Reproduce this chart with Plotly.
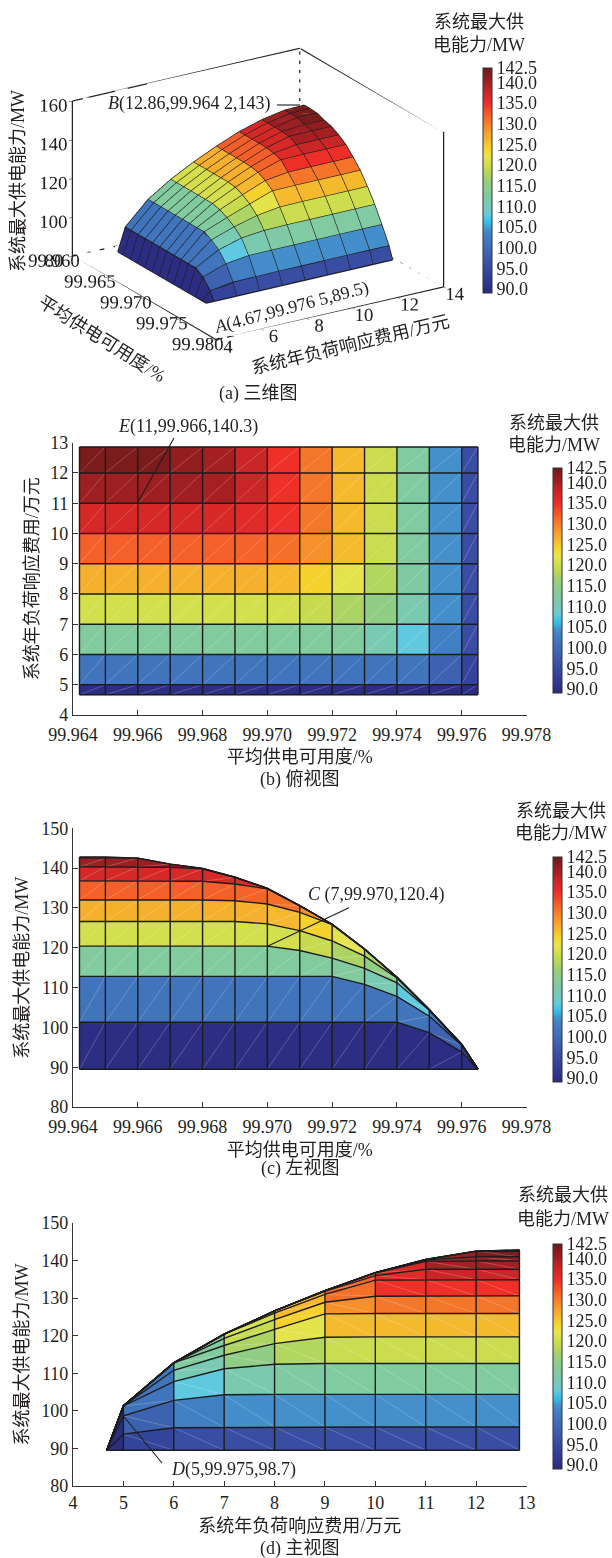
import plotly.graph_objects as go
from plotly.colors import sample_colorscale

W, H = 612, 1558

avail = [99.9642, 99.965, 99.966, 99.967, 99.968, 99.969, 99.970, 99.971,
         99.972, 99.973, 99.974, 99.975, 99.976, 99.9765]
cost = [4.67, 5, 6, 7, 8, 9, 10, 11, 12, 12.86]
z_467 = [89.5] * 14
z_5 = [101.3] * 11 + [98.7, 93.8, 89.5]
z_6 = [112.8] * 9 + [110.8, 107.8, 102.8, 95.5, 89.5]
z_7 = [120.4] * 7 + [119.3, 117.4, 114.8, 111.2, 104.3, 95.6, 89.5]
z_8 = [126.6] * 6 + [126.0, 124.3, 121.7, 117.9, 112.4, 104.4, 95.7, 89.5]
z_9 = [132.0] * 5 + [131.8, 131.0, 128.9, 125.8, 119.6, 112.6, 104.4, 95.7, 89.5]
z_10 = [136.8] * 4 + [136.7, 136.0, 134.8, 130.5, 125.9, 119.7, 112.6, 104.4, 95.7, 89.5]
z_11 = [140.3, 140.3, 140.3, 140.2, 139.8, 137.7, 134.9, 130.6, 125.9, 119.7, 112.6, 104.4, 95.7, 89.5]
z_12 = [142.5, 142.5, 142.5, 141.0, 139.9, 137.7, 134.9, 130.6, 125.9, 119.7, 112.6, 104.4, 95.7, 89.5]
z_1286 = [142.8, 142.8, 142.5, 141.0, 139.9, 137.7, 134.9, 130.6, 125.9, 119.7, 112.6, 104.4, 95.7, 89.5]
Z = [z_467, z_5, z_6, z_7, z_8, z_9, z_10, z_11, z_12, z_1286]

CMIN, CMAX = 89.0, 143.5
cb_ticks = [90, 95, 100, 105, 110, 115, 120, 125, 130, 135, 140, CMAX]
cb_text = ["90.0", "95.0", "100.0", "105.0", "110.0", "115.0", "120.0", "125.0", "130.0", "135.0", "140.0", "142.5"]

stops = [(89, "#2b2a80"), (92, "#2f3a92"), (96, "#3a50a4"), (100, "#3f6cb6"), (103, "#4180c4"),
         (104.5, "#4590cc"), (106, "#34bce8"), (107.8, "#5fc9e0"), (109, "#74c9c4"), (112, "#7dcaa8"),
         (116, "#98cf78"), (119, "#c2da50"), (122, "#e8e44a"), (124, "#f5d52e"), (126, "#f5b82e"),
         (129, "#f58f2a"), (132, "#f4602a"), (135, "#ee2e28"), (138, "#c62527"), (140, "#a21f22"),
         (143.5, "#6b1a1a")]
CS = [[(v - CMIN) / (CMAX - CMIN), c] for v, c in stops]

INK = "#231f20"
FONT = "Liberation Serif, 'Noto Sans CJK SC', serif"
FS = 18
GRID = "#1c1c1c"
DIAG = "rgba(255,255,255,0.35)"


def px(x, y):
    return x / W, 1 - y / H


def colorbar(x_px, top, bottom):
    return dict(x=x_px / W, xanchor="left", xpad=0, y=1 - top / H, yanchor="top", ypad=0,
                len=bottom - top, lenmode="pixels", thickness=9, thicknessmode="pixels",
                tickmode="array", tickvals=cb_ticks, ticktext=cb_text, ticks="",
                tickfont=dict(family=FONT, size=FS, color=INK), outlinecolor="#333", outlinewidth=1,
                ticklabelposition="outside")


fig = go.Figure()


def add_view(xs, ys, xa, ya, cb):
    """xs[i][j], ys[i][j]: vertices of the surface projected on this panel."""
    groups = {}
    for i in range(len(cost) - 1):
        for j in range(len(avail) - 1):
            groups.setdefault(Z[i][j], []).append(((i, j), (i, j + 1), (i + 1, j + 1), (i + 1, j), (i, j)))
    for val, quads in sorted(groups.items()):
        px_, py_ = [], []
        for q in quads:
            px_ += [xs[a][b] for a, b in q] + [None]
            py_ += [ys[a][b] for a, b in q] + [None]
        col = sample_colorscale(CS, (val - CMIN) / (CMAX - CMIN))[0]
        fig.add_trace(go.Scatter(x=px_, y=py_, mode="lines", fill="toself", fillcolor=col,
                                 line=dict(width=0.3, color=col), xaxis=xa, yaxis=ya,
                                 hoverinfo="skip", showlegend=False))
    dx, dy = [], []
    for i in range(len(cost) - 1):
        for j in range(len(avail) - 1):
            dx += [xs[i][j], xs[i + 1][j + 1], None]
            dy += [ys[i][j], ys[i + 1][j + 1], None]
    fig.add_trace(go.Scatter(x=dx, y=dy, mode="lines", line=dict(width=0.6, color=DIAG), xaxis=xa, yaxis=ya,
                             hoverinfo="skip", showlegend=False))
    gx, gy = [], []
    for i in range(len(cost)):
        gx += list(xs[i]) + [None]
        gy += list(ys[i]) + [None]
    for j in range(len(avail)):
        gx += [xs[i][j] for i in range(len(cost))] + [None]
        gy += [ys[i][j] for i in range(len(cost))] + [None]
    fig.add_trace(go.Scatter(x=gx, y=gy, mode="lines", line=dict(width=1.4, color=GRID), xaxis=xa, yaxis=ya,
                             hoverinfo="skip", showlegend=False))
    fig.add_trace(go.Scatter(x=[xs[0][0]], y=[ys[0][0]], mode="markers", xaxis=xa, yaxis=ya, hoverinfo="skip",
                             showlegend=False,
                             marker=dict(size=0.1, opacity=0, color=[90], cmin=CMIN, cmax=CMAX, colorscale=CS,
                                         showscale=True, colorbar=cb)))


# ---------- (a) 3-D view
mx, my, mz, ii, jj, kk, inten = [], [], [], [], [], [], []
for i, c in enumerate(cost):
    for j, a in enumerate(avail):
        mx.append(c)
        my.append(a)
        mz.append(Z[i][j])
n = len(avail)
for i in range(len(cost) - 1):
    for j in range(n - 1):
        v = i * n + j
        ii += [v, v]
        jj += [v + 1, v + n + 1]
        kk += [v + n + 1, v + n]
        inten += [Z[i][j], Z[i][j]]
fig.add_trace(go.Mesh3d(x=mx, y=my, z=mz, i=ii, j=jj, k=kk, intensity=inten, intensitymode="cell",
                        colorscale=CS, cmin=CMIN, cmax=CMAX, flatshading=True, hoverinfo="skip",
                        lighting=dict(ambient=1, diffuse=0, specular=0, roughness=1, fresnel=0),
                        colorbar=colorbar(483, 68, 293), scene="scene"))
dx3, dy3, dz3 = [], [], []
for i in range(len(cost) - 1):
    for j in range(n - 1):
        dx3 += [cost[i], cost[i + 1], None]
        dy3 += [avail[j], avail[j + 1], None]
        dz3 += [Z[i][j], Z[i + 1][j + 1], None]
fig.add_trace(go.Scatter3d(x=dx3, y=dy3, z=dz3, mode="lines", line=dict(color="#ffffff", width=1), opacity=0.3,
                           hoverinfo="skip", showlegend=False, scene="scene"))
lx, ly, lz = [], [], []
for i in range(len(cost)):
    lx += [cost[i]] * n + [None]
    ly += avail + [None]
    lz += Z[i] + [None]
for j in range(n):
    lx += cost + [None]
    ly += [avail[j]] * len(cost) + [None]
    lz += [Z[i][j] for i in range(len(cost))] + [None]
fig.add_trace(go.Scatter3d(x=lx, y=ly, z=lz, mode="lines", line=dict(color=GRID, width=2.5), hoverinfo="skip",
                           showlegend=False, scene="scene"))
X0, X1, Y0, Y1, Z0, Z1 = 4, 14, 99.96, 99.98, 80, 160
solid = [(X0, Y1, Z0), (X1, Y1, Z0), (X1, Y1, Z1), None, (X0, Y1, Z0), (X0, Y0, Z0), (X0, Y0, Z1), (X1, Y0, Z1),
         (X1, Y1, Z1)]
dash = [(X1, Y0, Z0), (X1, Y0, Z1), None, (X1, Y0, Z0), (X0, Y0, Z0), None, (X1, Y0, Z0), (X1, Y1, Z0)]
for pts, d in ((solid, "solid"), (dash, "dash")):
    fig.add_trace(go.Scatter3d(x=[p[0] if p else None for p in pts], y=[p[1] if p else None for p in pts],
                               z=[p[2] if p else None for p in pts], mode="lines",
                               line=dict(color="#222", width=2.5, dash=d), hoverinfo="skip", showlegend=False,
                               scene="scene"))


def axis3d(vals, text, rng):
    return dict(range=rng, tickmode="array", tickvals=vals, ticktext=text, title=dict(text=""),
                showbackground=False, showgrid=False, zeroline=False, showline=False, showspikes=False,
                ticks="inside", ticklen=4, tickcolor="#222", tickangle=0,
                tickfont=dict(family=FONT, size=15, color=INK))


cost_ticks3 = [4, 6, 8, 10, 12, 14]
avail_ticks3 = [99.96, 99.965, 99.97, 99.975, 99.98]
z_ticks3 = [80, 100, 120, 140, 160]
cx, cy = 258, 194
hw, hh = 250, 190
EYE = 1.34
AR = 1.416
fig.update_layout(scene=dict(
    domain=dict(x=[(cx - hw) / W, (cx + hw) / W], y=[1 - (cy + hh) / H, 1 - (cy - hh) / H]),
    xaxis=axis3d(cost_ticks3, [str(v) for v in cost_ticks3], [X0, X1]),
    yaxis=axis3d(avail_ticks3, ["%.3f" % v for v in avail_ticks3], [Y1, Y0]),
    zaxis=axis3d(z_ticks3, [str(v) for v in z_ticks3], [Z0, Z1]),
    aspectmode="manual", aspectratio=dict(x=AR, y=AR, z=0.62 * AR),
    camera=dict(eye=dict(x=-0.497 * EYE, y=-0.786 * EYE, z=0.367 * EYE), center=dict(x=0, y=0, z=0),
                up=dict(x=0, y=0, z=1), projection=dict(type="orthographic")),
))

# ---------- 2-D views
XL, XR = 73, 526.5
Xa = [[a for a in avail] for _ in cost]
Ya = [[c] * n for c in cost]
add_view(Xa, Ya, "x2", "y2", colorbar(553, 468, 693))
add_view(Xa, Z, "x3", "y3", colorbar(553, 857, 1082))
Xd = [[c] * n for c in cost]
add_view(Xd, Z, "x4", "y4", colorbar(553, 1244, 1469))


def xax(rng, dtick, title, fmt, standoff, tls):
    return dict(range=rng, domain=[XL / W, XR / W], dtick=dtick, tick0=rng[0], tickformat=fmt,
                showgrid=False, zeroline=False, showline=True, linecolor="#333", linewidth=1.2, ticks="inside",
                ticklen=5, tickcolor="#333", ticklabelstandoff=tls, tickfont=dict(family=FONT, size=FS, color=INK),
                title=dict(text=title, font=dict(family=FONT, size=FS, color=INK), standoff=standoff))


def yax(rng, dtick, top, bottom, title, standoff):
    return dict(range=rng, domain=[1 - bottom / H, 1 - top / H], dtick=dtick, tick0=rng[0],
                showgrid=False, zeroline=False, showline=True, linecolor="#333", linewidth=1.2, ticks="inside",
                ticklen=5, tickcolor="#333", tickfont=dict(family=FONT, size=FS, color=INK),
                title=dict(text=title, font=dict(family=FONT, size=FS, color=INK), standoff=standoff))


T_AV = "平均供电可用度/%"
T_COST = "系统年负荷响应费用/万元"
T_P = "系统最大供电能力/MW"
AV_R = [99.964, 99.978]
fig.update_layout(
    xaxis2=dict(xax(AV_R, 0.002, T_AV, ".3f", 6, 3), anchor="y2"),
    yaxis2=dict(yax([4, 13], 1, 442.7, 715, T_COST, 6), anchor="x2"),
    xaxis3=dict(xax(AV_R, 0.002, T_AV, ".3f", 7, 3), anchor="y3"),
    yaxis3=dict(yax([80, 150], 10, 828.3, 1107, T_P, 7), anchor="x3"),
    xaxis4=dict(xax([4, 13], 1, T_COST, "d", 7, 0), anchor="y4"),
    yaxis4=dict(yax([80, 150], 10, 1223, 1486, T_P, 7), anchor="x4"),
)


def note(x, y, text, angle=0, xanchor="center"):
    ax, ay = px(x, y)
    fig.add_annotation(x=ax, y=ay, xref="paper", yref="paper", text=text, showarrow=False, textangle=angle,
                       xanchor=xanchor, yanchor="middle", font=dict(family=FONT, size=FS, color=INK))


def leader(x0, y0, x1, y1):
    a, b = px(x0, y0)
    c, d = px(x1, y1)
    fig.add_shape(type="line", xref="paper", yref="paper", x0=a, y0=b, x1=c, y1=d,
                  line=dict(color="#1c1c1c", width=1.1))


CB_T = ["系统最大供", "电能力/MW"]
for x, y0, y1 in ((478.5, 22, 45), (554, 423, 445), (561, 811, 833), (563, 1195, 1219)):
    note(x, y0, CB_T[0])
    note(x, y1, CB_T[1])

note(258, 393, "(a) 三维图")
note(300, 779, "(b) 俯视图")
note(300, 1168, "(c) 左视图")
note(300, 1548, "(d) 主视图")

note(18, 181, T_P, angle=-90)
note(350, 345, T_COST, angle=-13.6)
note(102, 339, T_AV, angle=32)
note(189, 103, "<i>B</i>(12.86,99.964 2,143)")
leader(277, 105, 300, 105)
note(291, 307, "<i>A</i>(4.67,99.976 5,89.5)", angle=-14.8)
note(188, 426, "<i>E</i>(11,99.966,140.3)")
leader(174, 438, 137.5, 503)
note(376, 894, "<i>C</i> (7,99.970,120.4)")
leader(349, 907.7, 268, 946)
note(234, 1469, "<i>D</i>(5,99.975,98.7)")
leader(162, 1463, 123.4, 1416)

fig.update_layout(width=W, height=H, autosize=False, margin=dict(l=0, r=0, t=0, b=0, autoexpand=False),
                  paper_bgcolor="white", plot_bgcolor="white", showlegend=False,
                  font=dict(family=FONT, size=FS, color=INK))
fig.write_html("out.html", config={"displayModeBar": False},
               post_script="document.body.style.margin='0';document.body.style.overflow='hidden';")
